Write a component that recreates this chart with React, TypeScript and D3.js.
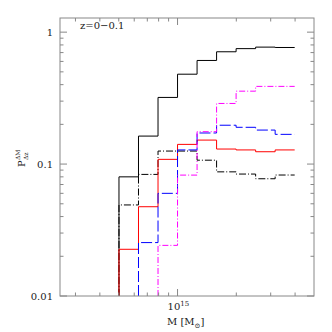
import * as d3 from "d3"
import React from "react"

// log10 of the mass bin edges
const binEdges = [14.7, 14.8, 14.9, 15.0, 15.1, 15.2, 15.3, 15.4, 15.5, 15.6]

// values per bin, each series starts at its first bin index
const blackSolid = [0.080, 0.163, 0.32, 0.48, 0.61, 0.71, 0.75, 0.77, 0.765]
const blackDashDot = [0.049, 0.0835, 0.1255, 0.1255, 0.107, 0.0873, 0.084, 0.0774, 0.0826]
const redSolid = [0.0226, 0.0475, 0.1086, 0.141, 0.152, 0.13, 0.128, 0.124, 0.128]
const blueDashed = [0.0254, 0.06, 0.128, 0.172, 0.197, 0.19, 0.181, 0.168]
const magentaDashDot = [0.0242, 0.0825, 0.176, 0.288, 0.357, 0.388, 0.388]

const xMinorTicks = [3e14, 4e14, 5e14, 6e14, 7e14, 8e14, 9e14, 2e15, 3e15, 4e15]
const xMajorTicks = [1e15]
const yMajorTicks = [0.01, 0.1, 1]
const yTickLabels = ["0.01", "0.1", "1"]
const yMinorTicks = [0.02, 0.03, 0.04, 0.05, 0.06, 0.07, 0.08, 0.09, 0.2, 0.3, 0.4, 0.5, 0.6, 0.7, 0.8, 0.9]

const series = [
  { values: blackSolid, start: 0, color: "#000", dash: "none" },
  { values: blackDashDot, start: 0, color: "#000", dash: "7,2,1,2" },
  { values: redSolid, start: 0, color: "#f00", dash: "none" },
  { values: blueDashed, start: 1, color: "#00f", dash: "11,3" },
  { values: magentaDashDot, start: 2, color: "#f0f", dash: "6,2,1,2" },
]

export default () => {
  const left = 60, right = 314, top = 18, bottom = 296
  const x = d3.scaleLog().domain([2.5e14, 5e15]).range([left, right])
  const y = d3.scaleLog().domain([0.01, 1.28]).range([bottom, top])
  const frame = "#888"
  const font = "'DejaVu Serif', serif"

  const line = d3.line<[number, number]>()
    .x(d => x(Math.pow(10, d[0])))
    .y(d => y(d[1]))

  return (
    <svg width={332} height={332} style={{ position: "absolute", left: 0, top: 0 }} fontFamily={font}>
      <rect width={332} height={332} fill="#fff" />
      {series.map((s, k) => {
        const pts: [number, number][] = [[binEdges[s.start], 0.01]]
        s.values.forEach((v, i) => {
          pts.push([binEdges[s.start + i], v])
          pts.push([binEdges[s.start + i + 1], v])
        })
        return (
          <path key={k} d={line(pts) || ""} fill="none" stroke={s.color}
            strokeWidth={1} strokeDasharray={s.dash} />
        )
      })}
      <rect x={left} y={top} width={right - left} height={bottom - top}
        fill="none" stroke={frame} strokeWidth={1} />
      {xMinorTicks.map(t => (
        <g key={t} stroke={frame}>
          <line x1={x(t)} x2={x(t)} y1={bottom} y2={bottom - 3.5} />
          <line x1={x(t)} x2={x(t)} y1={top} y2={top + 3.5} />
        </g>
      ))}
      {xMajorTicks.map(t => (
        <g key={t} stroke={frame}>
          <line x1={x(t)} x2={x(t)} y1={bottom} y2={bottom - 7} />
          <line x1={x(t)} x2={x(t)} y1={top} y2={top + 7} />
        </g>
      ))}
      {yMinorTicks.map(t => (
        <g key={t} stroke={frame}>
          <line x1={left} x2={left + 3.5} y1={y(t)} y2={y(t)} />
          <line x1={right} x2={right - 3.5} y1={y(t)} y2={y(t)} />
        </g>
      ))}
      {yMajorTicks.map((t, i) => (
        <g key={t}>
          <line x1={left} x2={left + 7} y1={y(t)} y2={y(t)} stroke={frame} />
          <line x1={right} x2={right - 7} y1={y(t)} y2={y(t)} stroke={frame} />
          <text x={53} y={y(t) + 4} textAnchor="end" fontSize={10} fill="#222">{yTickLabels[i]}</text>
        </g>
      ))}
      <text x={x(1e15) - 10} y={310} fontSize={10} fill="#222">
        10<tspan fontSize={7} dy={-4}>15</tspan>
      </text>
      <text x={167} y={325} fontSize={10} fill="#222">
        M [M<tspan fontSize={7} dy={3}>⊙</tspan><tspan dy={-3}>]</tspan>
      </text>
      <text x={80} y={29} fontSize={10} fill="#222">z=0−0.1</text>
      <g transform="translate(25,167) rotate(-90)" fill="#222">
        <text x={0} y={0} fontSize={10}>P</text>
        <text x={7} y={-5} fontSize={6}>ΔM</text>
        <text x={7} y={2.5} fontSize={6}>Δz</text>
      </g>
    </svg>
  )
}
